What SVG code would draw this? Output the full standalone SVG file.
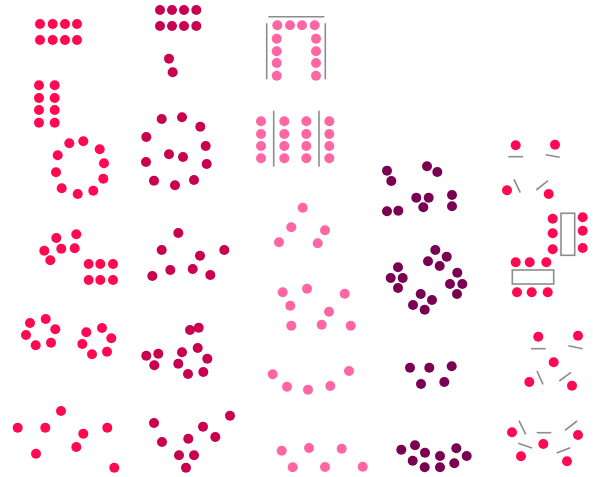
<svg xmlns="http://www.w3.org/2000/svg" width="593" height="477" viewBox="0 0 593 477">
<style>
.r{fill:#ff0a50}
.c{fill:#c8004f}
.p{fill:#ff66a3}
.v{fill:#7a0052}
.ln{stroke:#8c8c8c;stroke-width:1.6;fill:none}
.tb{stroke:#8c8c8c;stroke-width:1.6;fill:#fff}
circle{r:5px}
</style>
<rect width="593" height="477" fill="#fff"/>
<g id="connectors"/>
<g id="n1" class="r">
<circle cx="40" cy="24" r="5"/><circle cx="52.7" cy="24" r="5"/><circle cx="65" cy="24" r="5"/><circle cx="77" cy="24" r="5"/>
<circle cx="40" cy="40" r="5"/><circle cx="52.7" cy="40" r="5"/><circle cx="65" cy="40" r="5"/><circle cx="77" cy="40" r="5"/>
</g>
<g id="n2" class="c">
<circle cx="160" cy="10" r="5"/><circle cx="172" cy="10" r="5"/><circle cx="184" cy="10" r="5"/><circle cx="196.3" cy="10" r="5"/>
<circle cx="160" cy="26" r="5"/><circle cx="172" cy="26" r="5"/><circle cx="184" cy="26" r="5"/><circle cx="196.3" cy="26" r="5"/>
<circle cx="169" cy="58.7" r="5"/><circle cx="172.7" cy="72.3" r="5"/>
</g>
<g id="n3" class="r">
<circle cx="39" cy="85.3" r="5"/><circle cx="54.7" cy="85.3" r="5"/>
<circle cx="39" cy="98" r="5"/><circle cx="54.7" cy="98" r="5"/>
<circle cx="39" cy="110" r="5"/><circle cx="54.7" cy="110" r="5"/>
<circle cx="39" cy="122.7" r="5"/><circle cx="54.7" cy="122.7" r="5"/>
</g>
<g id="n4" class="r">
<circle cx="69.3" cy="143.3" r="5"/><circle cx="83.3" cy="141.3" r="5"/><circle cx="99.7" cy="149.3" r="5"/><circle cx="104" cy="163.3" r="5"/><circle cx="103.3" cy="178.7" r="5"/>
<circle cx="93.3" cy="190.7" r="5"/><circle cx="77.7" cy="194" r="5"/><circle cx="61.7" cy="188.3" r="5"/><circle cx="56" cy="172.3" r="5"/><circle cx="57.7" cy="155.3" r="5"/>
</g>
<g id="n5" class="c">
<circle cx="161.7" cy="119" r="5"/><circle cx="182" cy="117.3" r="5"/><circle cx="200.3" cy="126.7" r="5"/><circle cx="205.7" cy="146" r="5"/><circle cx="206.7" cy="164" r="5"/>
<circle cx="194" cy="180" r="5"/><circle cx="175" cy="185.3" r="5"/><circle cx="154" cy="180.7" r="5"/><circle cx="146" cy="162" r="5"/><circle cx="146.3" cy="137" r="5"/>
<circle cx="169" cy="154.3" r="5"/><circle cx="183" cy="157" r="5"/>
</g>
<g id="n6">
<line class="ln" x1="268.3" y1="16.7" x2="324.3" y2="16.7"/>
<line class="ln" x1="266.7" y1="23.3" x2="266.7" y2="79.3"/>
<line class="ln" x1="325.3" y1="23.3" x2="325.3" y2="79.3"/>
<g class="p">
<circle cx="277.3" cy="25.3" r="5"/><circle cx="290" cy="25.3" r="5"/><circle cx="302" cy="25.3" r="5"/><circle cx="314.7" cy="25.3" r="5"/>
<circle cx="276.7" cy="38.7" r="5"/><circle cx="276.7" cy="51.3" r="5"/><circle cx="276.7" cy="63" r="5"/><circle cx="276.7" cy="75.7" r="5"/>
<circle cx="316" cy="38.7" r="5"/><circle cx="316" cy="51.3" r="5"/><circle cx="316" cy="63" r="5"/><circle cx="316" cy="75.7" r="5"/>
</g>
</g>
<g id="n7">
<line class="ln" x1="273.7" y1="110.7" x2="273.7" y2="166.7"/>
<line class="ln" x1="319" y1="110.7" x2="319" y2="166.7"/>
<g class="p">
<circle cx="261" cy="121.3" r="5"/><circle cx="261" cy="134" r="5"/><circle cx="261" cy="146" r="5"/><circle cx="261" cy="158.3" r="5"/>
<circle cx="284.3" cy="121.3" r="5"/><circle cx="284.3" cy="134" r="5"/><circle cx="284.3" cy="146" r="5"/><circle cx="284.3" cy="158.3" r="5"/>
<circle cx="306.3" cy="121.3" r="5"/><circle cx="306.3" cy="134" r="5"/><circle cx="306.3" cy="146" r="5"/><circle cx="306.3" cy="158.3" r="5"/>
<circle cx="329.3" cy="121.3" r="5"/><circle cx="329.3" cy="134" r="5"/><circle cx="329.3" cy="146" r="5"/><circle cx="329.3" cy="158.3" r="5"/>
</g>
</g>
<g id="n8" class="r">
<circle cx="56.3" cy="238" r="5"/><circle cx="76.3" cy="234.3" r="5"/><circle cx="44.3" cy="250.7" r="5"/><circle cx="61.3" cy="248.7" r="5"/><circle cx="74.7" cy="248.3" r="5"/><circle cx="50.3" cy="260.3" r="5"/>
<circle cx="88.7" cy="264" r="5"/><circle cx="100.3" cy="264" r="5"/><circle cx="113" cy="264" r="5"/>
<circle cx="88.7" cy="280" r="5"/><circle cx="100.3" cy="280" r="5"/><circle cx="113" cy="280" r="5"/>
</g>
<g id="n9" class="c">
<circle cx="178.3" cy="233" r="5"/><circle cx="161.7" cy="250" r="5"/><circle cx="224.3" cy="250" r="5"/><circle cx="200" cy="255.7" r="5"/>
<circle cx="170.3" cy="270" r="5"/><circle cx="192.7" cy="269" r="5"/><circle cx="152.3" cy="276" r="5"/><circle cx="210.3" cy="275" r="5"/>
</g>
<g id="n10" class="p">
<circle cx="302.7" cy="207.7" r="5"/><circle cx="291.3" cy="227.3" r="5"/><circle cx="325" cy="230.3" r="5"/><circle cx="279" cy="242.3" r="5"/><circle cx="317.7" cy="243.3" r="5"/>
</g>
<g id="n11">
<g class="v">
<circle cx="387" cy="170.7" r="5"/><circle cx="391.3" cy="181" r="5"/><circle cx="427" cy="166.3" r="5"/><circle cx="437.3" cy="172" r="5"/>
<circle cx="416.3" cy="197.7" r="5"/><circle cx="428.7" cy="197.7" r="5"/><circle cx="423.3" cy="207.3" r="5"/>
<circle cx="452" cy="195" r="5"/><circle cx="452" cy="206.3" r="5"/><circle cx="387" cy="211.3" r="5"/><circle cx="398.3" cy="210.7" r="5"/>
</g>
</g>
<g id="n12">
<g class="r">
<circle cx="515.7" cy="145.3" r="5"/><circle cx="555" cy="144.7" r="5"/><circle cx="507" cy="190.3" r="5"/><circle cx="548.7" cy="194" r="5"/>
</g>
<line class="ln" x1="508.3" y1="156.7" x2="523" y2="156.7"/>
<line class="ln" x1="545.7" y1="154.7" x2="559.7" y2="157.3"/>
<line class="ln" x1="514" y1="179.3" x2="520.3" y2="192.7"/>
<line class="ln" x1="536.3" y1="190" x2="548" y2="180.7"/>
</g>
<g id="n13">
<rect class="tb" x="561" y="213.3" width="13.7" height="42"/>
<g class="r">
<circle cx="552.7" cy="218.7" r="5"/><circle cx="552.7" cy="233.3" r="5"/><circle cx="552.7" cy="249.3" r="5"/>
<circle cx="582.7" cy="217.3" r="5"/><circle cx="582.7" cy="230.7" r="5"/><circle cx="582.7" cy="248" r="5"/>
</g>
</g>
<g id="n14">
<rect class="tb" x="512.3" y="270" width="41.4" height="14"/>
<g class="r">
<circle cx="515.7" cy="262.3" r="5"/><circle cx="529.7" cy="262.3" r="5"/><circle cx="546.3" cy="262.3" r="5"/>
<circle cx="517" cy="292.3" r="5"/><circle cx="531.7" cy="292.3" r="5"/><circle cx="547.7" cy="292.3" r="5"/>
</g>
</g>
<g id="n15" class="v">
<circle cx="435.3" cy="250" r="5"/><circle cx="446.7" cy="256.7" r="5"/><circle cx="428" cy="261.3" r="5"/><circle cx="439.7" cy="266" r="5"/>
<circle cx="398" cy="267.3" r="5"/><circle cx="390.7" cy="278" r="5"/><circle cx="402.7" cy="278" r="5"/><circle cx="398" cy="288" r="5"/>
<circle cx="457.3" cy="272.7" r="5"/><circle cx="450" cy="284" r="5"/><circle cx="462.3" cy="284" r="5"/><circle cx="457" cy="294" r="5"/>
<circle cx="420.7" cy="294" r="5"/><circle cx="432" cy="300" r="5"/><circle cx="413" cy="305" r="5"/><circle cx="424.7" cy="309.7" r="5"/>
</g>
<g id="n16" class="p">
<circle cx="282.7" cy="292.3" r="5"/><circle cx="307" cy="288.7" r="5"/><circle cx="344.7" cy="293.7" r="5"/><circle cx="290.3" cy="305.7" r="5"/>
<circle cx="329" cy="311.7" r="5"/><circle cx="291.3" cy="325.7" r="5"/><circle cx="321.7" cy="324.7" r="5"/><circle cx="350.7" cy="325.7" r="5"/>
</g>
<g id="n17" class="r">
<circle cx="30" cy="323" r="5"/><circle cx="45.7" cy="319" r="5"/><circle cx="55.3" cy="329.3" r="5"/><circle cx="26" cy="335" r="5"/><circle cx="35.7" cy="345.3" r="5"/><circle cx="51" cy="342.7" r="5"/>
<circle cx="86.3" cy="332.3" r="5"/><circle cx="102" cy="328" r="5"/><circle cx="111.3" cy="338.3" r="5"/><circle cx="82.3" cy="344" r="5"/><circle cx="92" cy="354.3" r="5"/><circle cx="107" cy="351.7" r="5"/>
</g>
<g id="n18" class="c">
<circle cx="190" cy="330" r="5"/><circle cx="198.7" cy="327.7" r="5"/><circle cx="146.3" cy="355.7" r="5"/><circle cx="158.3" cy="353.7" r="5"/><circle cx="154.3" cy="365.3" r="5"/>
<circle cx="182" cy="352.3" r="5"/><circle cx="197.7" cy="348" r="5"/><circle cx="207.3" cy="358.7" r="5"/><circle cx="178.3" cy="363.7" r="5"/><circle cx="188" cy="374" r="5"/><circle cx="203.3" cy="372" r="5"/>
</g>
<g id="n19" class="p">
<circle cx="272.7" cy="374.3" r="5"/><circle cx="349" cy="371" r="5"/><circle cx="287" cy="386.7" r="5"/><circle cx="308" cy="389.7" r="5"/><circle cx="330.3" cy="386" r="5"/>
</g>
<g id="n20" class="v">
<circle cx="410" cy="367.7" r="5"/><circle cx="429.3" cy="367.7" r="5"/><circle cx="451.7" cy="366.3" r="5"/><circle cx="421" cy="384" r="5"/><circle cx="444.3" cy="382" r="5"/>
</g>
<g id="n21">
<g class="r">
<circle cx="538.3" cy="336.7" r="5"/><circle cx="578" cy="335.7" r="5"/><circle cx="553.7" cy="362.3" r="5"/><circle cx="529.3" cy="382" r="5"/><circle cx="572" cy="385.7" r="5"/>
</g>
<line class="ln" x1="531" y1="348.7" x2="545.7" y2="348.7"/>
<line class="ln" x1="568.3" y1="345.7" x2="582.7" y2="348.7"/>
<line class="ln" x1="537" y1="371" x2="543" y2="384.3"/>
<line class="ln" x1="559.3" y1="381" x2="571" y2="372.3"/>
</g>
<g id="n22" class="r">
<circle cx="61" cy="411" r="5"/><circle cx="17.7" cy="427.7" r="5"/><circle cx="45.3" cy="427.7" r="5"/><circle cx="83.3" cy="433.7" r="5"/>
<circle cx="107.3" cy="427.7" r="5"/><circle cx="76.3" cy="447" r="5"/><circle cx="36" cy="453.7" r="5"/><circle cx="114.3" cy="467.7" r="5"/>
</g>
<g id="n23" class="c">
<circle cx="154" cy="423" r="5"/><circle cx="230" cy="415.7" r="5"/><circle cx="203" cy="426.7" r="5"/><circle cx="215.3" cy="437" r="5"/><circle cx="162" cy="442" r="5"/>
<circle cx="188.3" cy="438.7" r="5"/><circle cx="179" cy="455.3" r="5"/><circle cx="194" cy="455.3" r="5"/><circle cx="186" cy="467.7" r="5"/>
</g>
<g id="n24" class="p">
<circle cx="281.7" cy="450.7" r="5"/><circle cx="309" cy="448" r="5"/><circle cx="341.7" cy="448.7" r="5"/><circle cx="292.7" cy="467.3" r="5"/><circle cx="325" cy="467" r="5"/><circle cx="362.7" cy="466.7" r="5"/>
</g>
<g id="n25" class="v">
<circle cx="401.3" cy="449.7" r="5"/><circle cx="415" cy="445.3" r="5"/><circle cx="425" cy="452.7" r="5"/><circle cx="412.7" cy="460.7" r="5"/><circle cx="440" cy="456" r="5"/>
<circle cx="456.3" cy="448.3" r="5"/><circle cx="466.7" cy="456" r="5"/><circle cx="424.7" cy="467.3" r="5"/><circle cx="440" cy="467.3" r="5"/><circle cx="454.3" cy="463.3" r="5"/>
</g>
<g id="n26">
<g class="r">
<circle cx="512" cy="432.3" r="5"/><circle cx="543.3" cy="444" r="5"/><circle cx="578" cy="435" r="5"/><circle cx="521" cy="456.3" r="5"/><circle cx="567" cy="461.3" r="5"/>
</g>
<line class="ln" x1="519" y1="420.7" x2="525.7" y2="434.3"/>
<line class="ln" x1="536.7" y1="432.7" x2="551.3" y2="432.7"/>
<line class="ln" x1="565" y1="430.3" x2="577" y2="421"/>
<line class="ln" x1="518.3" y1="443.3" x2="532" y2="448"/>
<line class="ln" x1="556.7" y1="453" x2="570.3" y2="447.7"/>
</g>
</svg>
